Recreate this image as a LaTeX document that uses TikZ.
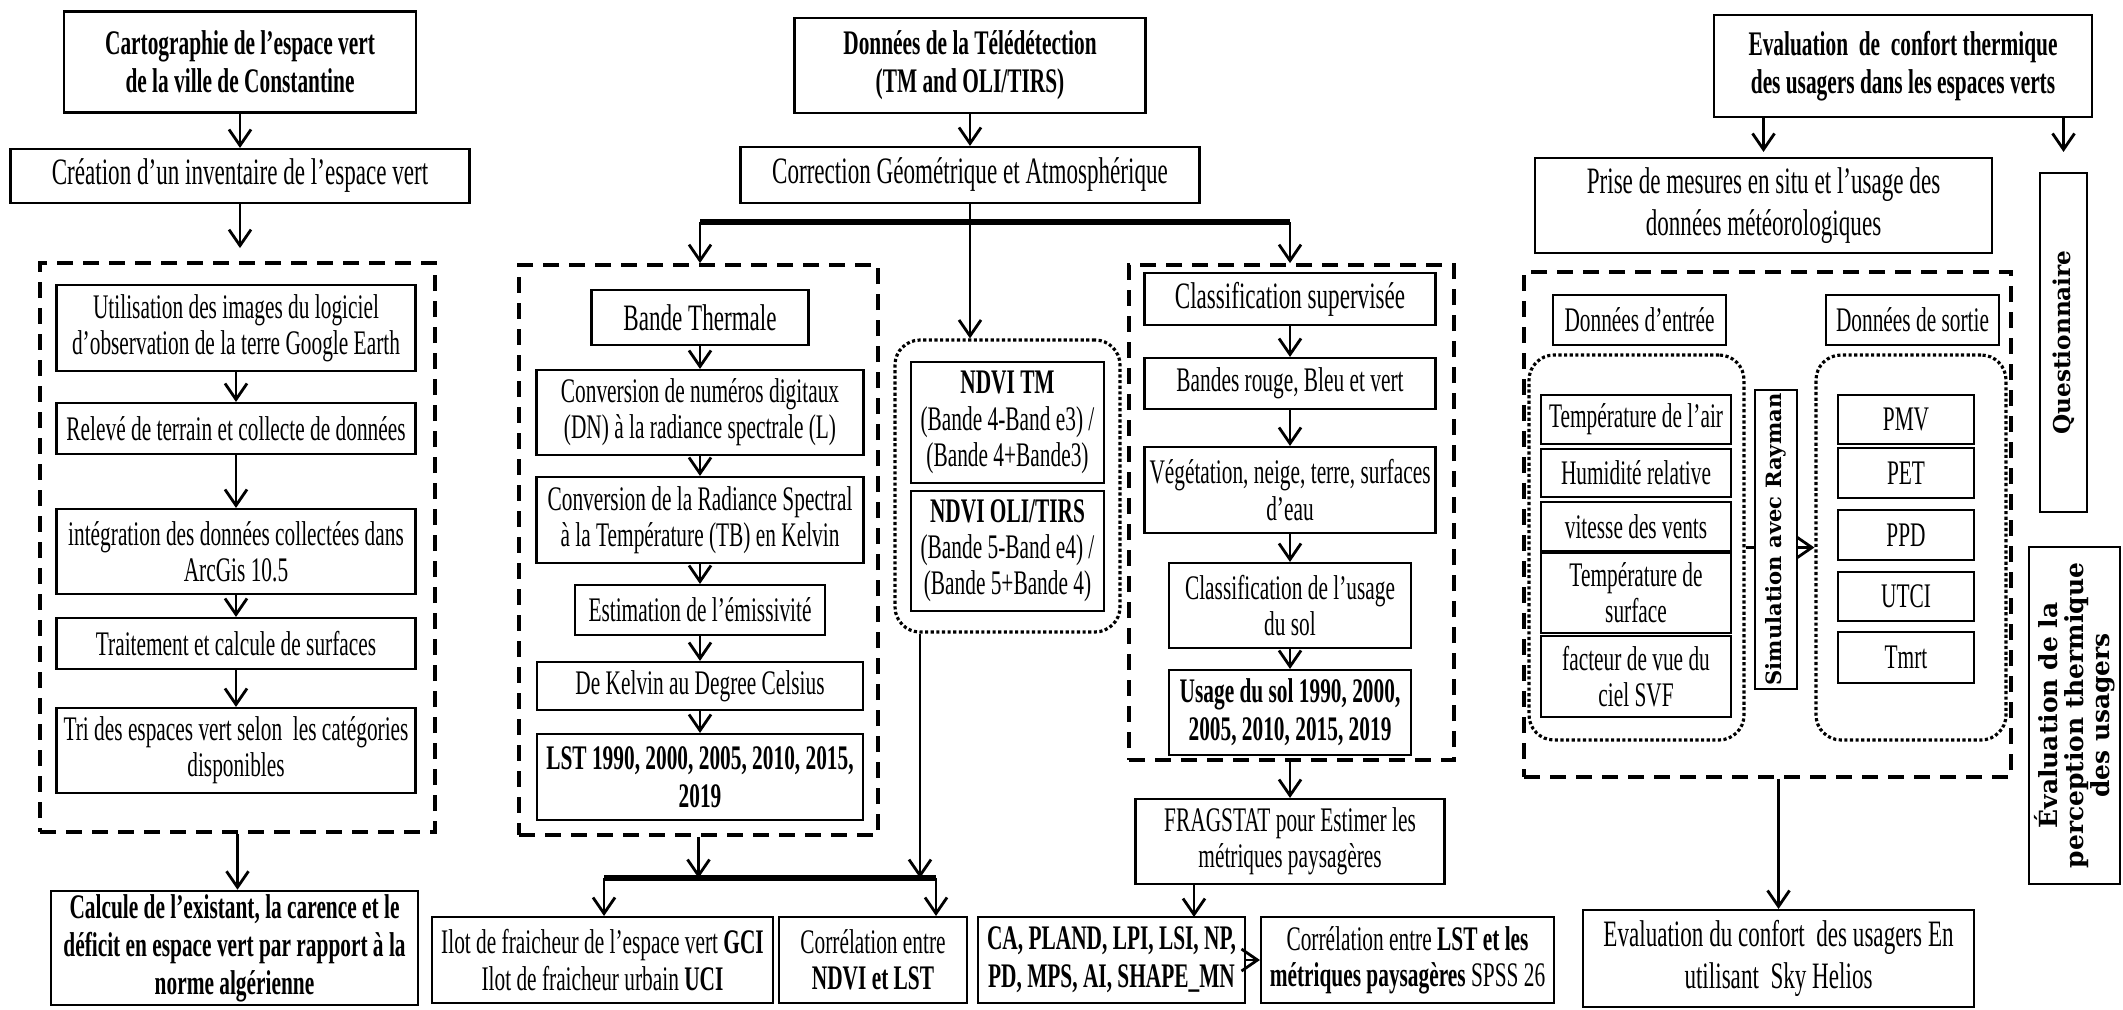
\documentclass[tikz,border=0pt]{standalone}
\usepackage{fontspec}
\setmainfont{Liberation Serif}[FakeStretch=0.62]
\newfontfamily\rotfont{DejaVu Serif}
\usetikzlibrary{arrows.meta}

\begin{document}
\begin{tikzpicture}[x=0.1mm, y=-0.1mm, font=\fontsize{9.8}{10.3}\selectfont,
    box/.style={draw, line width=0.6pt, fill=white, align=center, inner sep=1pt},
    title/.style={box, font=\bfseries\fontsize{9.8}{10.8}\selectfont},
    sz/.style 2 args={minimum width=#1mm, minimum height=#2mm},
    dashbox/.style={draw, line width=1.1pt, dash pattern=on 1.6mm off 1mm},
    dotbox/.style={draw, line width=0.9pt, dash pattern=on 0.9pt off 0.7pt, rounded corners=2.5mm},
    vert/.style={box, rotate=90, font=\rotfont\bfseries\fontsize{#1}{7.4}\selectfont},
    arr/.style={-{Straight Barb[length=1.6mm, width=2.2mm]}, line width=0.8pt},
    bus/.style={line width=1.6pt}]
    \useasboundingbox (0,0) rectangle (2123,1009);

    \node[title, sz={35.2}{10.1}] (carto) at (240,62) {Cartographie de l’espace vert\\de la ville de Constantine};
    \node[box, sz={45.9}{5.4}, font=\fontsize{10.6}{11}\selectfont] (cre) at (240,176) {Création d’un inventaire de l’espace vert};
    \node[dashbox, sz={39.5}{56.9}] (d1) at (237.5,547.5) {};
    \node[box, sz={35.9}{8.6}] (u1) at (236,328) {Utilisation des images du logiciel\\d'observation de la terre Google Earth};
    \node[box, sz={35.9}{5.1}] (u2) at (236,428.5) {Relevé de terrain et collecte de données};
    \node[box, sz={35.9}{8.5}] (u3) at (236,551.5) {intégration des données collectées dans\\ArcGis 10.5};
    \node[box, sz={35.9}{5.1}] (u4) at (236,643.5) {Traitement et calcule de surfaces};
    \node[box, sz={35.9}{8.5}] (u5) at (236,750.5) {Tri des espaces vert selon\ \ les catégories\\disponibles};
    \node[title, sz={36.7}{11.4}] (calc) at (234.5,948) {Calcule de l’existant, la carence et le\\déficit en espace vert par rapport à la\\norme algérienne};

    \node[title, sz={35.1}{9.5}] (tele) at (970,65.5) {Données de la Télédétection\\(TM and OLI/TIRS)};
    \node[box, sz={45.9}{5.6}, font=\fontsize{10.6}{11}\selectfont] (corr) at (970,175) {Correction Géométrique et Atmosphérique};
    \coordinate (b1) at (700,222);
    \coordinate (b2) at (1290,222);
    \node[dashbox, sz={35.9}{57}] (d2) at (698.5,550) {};
    \node[box, sz={21.7}{5.5}, font=\fontsize{10.6}{11}\selectfont] (band) at (700,317.5) {Bande Thermale};
    \node[box, sz={32.7}{8.5}] (cv1) at (700,412.5) {Conversion de numéros digitaux\\(DN) à la radiance spectrale (L)};
    \node[box, sz={32.7}{8.6}] (cv2) at (700,520) {Conversion de la Radiance Spectral\\à la Température (TB) en Kelvin};
    \node[box, sz={25}{5}] (emi) at (700,610) {Estimation de l’émissivité};
    \node[box, sz={32.6}{4.8}] (kel) at (700,686) {De Kelvin au Degree Celsius};
    \node[title, sz={32.6}{8.6}] (lst) at (700,777) {LST 1990, 2000, 2005, 2010, 2015,\\2019};
    \node[dotbox, sz={22.5}{29.2}] (ndvi) at (1007.5,486) {};
    \node[box, sz={19.3}{12.1}] (tm) at (1007.5,422.5) {\textbf{NDVI TM}\\(Bande 4-Band e3) /\\(Bande 4+Bande3)};
    \node[box, sz={19.3}{12}] (oli) at (1007.5,551) {\textbf{NDVI OLI/TIRS}\\(Bande 5-Band e4) /\\(Bande 5+Bande 4)};
    \node[dashbox, sz={32.5}{49.5}] (d3) at (1291.5,512.5) {};
    \node[box, sz={29.1}{5.2}, font=\fontsize{10.6}{11}\selectfont] (cls) at (1290,299) {Classification supervisée};
    \node[box, sz={29.1}{5.1}] (brv) at (1290,383.5) {Bandes rouge, Bleu et vert};
    \node[box, sz={29.1}{8.6}] (veg) at (1290,490) {Végétation, neige, terre, surfaces\\d’eau};
    \node[box, sz={24.2}{8.5}] (clu) at (1290,605.5) {Classification de l’usage\\du sol};
    \node[title, sz={24.2}{8.5}] (usg) at (1290,712.5) {Usage du sol 1990, 2000,\\2005, 2010, 2015, 2019};
    \node[box, sz={30.9}{8.5}] (frag) at (1290,841.5) {FRAGSTAT pour Estimer les\\métriques paysagères};
    \node[box, sz={34.1}{8.6}] (ilot) at (602.5,960) {Ilot de fraicheur de l’espace vert \textbf{GCI}\\Ilot de fraicheur urbain \textbf{UCI}};
    \node[box, sz={18.8}{8.6}] (cndvi) at (873,960) {Corrélation entre\\\textbf{NDVI et LST}};
    \node[title, sz={26.7}{8.6}] (ca) at (1111.5,960) {CA, PLAND, LPI, LSI, NP,\\PD, MPS, AI, SHAPE\_MN};
    \node[box, sz={29.3}{8.6}] (clst) at (1407.5,960) {Corrélation entre \textbf{LST et les}\\\textbf{métriques paysagères} SPSS 26};
    \coordinate (b3) at (604,878);
    \coordinate (b4) at (936,878);
    \coordinate (n3) at (920,878);
    \coordinate (f1) at (1194,917);

    \node[title, sz={37.8}{10.2}] (eval) at (1903,66) {Evaluation\ \ de\ \ confort thermique\\des usagers dans les espaces verts};
    \node[box, sz={45.7}{9.5}, font=\fontsize{10.6}{12}\selectfont] (prise) at (1763.5,205.5) {Prise de mesures en situ et l’usage des\\données météorologiques};
    \node[vert=6.6, sz={33.9}{4.7}] (quest) at (2063.5,342.5) {Questionnaire};
    \node[vert=7.1, sz={33.7}{9.1}] (perc) at (2074.5,715.5) {Évaluation de la\\perception thermique\\des usagers};
    \node[dashbox, sz={48.7}{50.5}] (d4) at (1767.5,524.5) {};
    \node[box, sz={17.3}{5}] (din) at (1639.5,320) {Données d’entrée};
    \node[box, sz={17.3}{5}] (dout) at (1912.5,320) {Données de sortie};
    \node[dotbox, sz={21.5}{38.5}] (dotin) at (1636.5,547.5) {};
    \node[dotbox, sz={19}{38.5}] (dotout) at (1911,547.5) {};
    \node[box, sz={19}{4.9}] (i1) at (1636,419.5) {Température de l’air};
    \node[box, sz={19}{4.8}] (i2) at (1636,473) {Humidité relative};
    \node[box, sz={19}{4.9}] (i3) at (1636,526.5) {vitesse des vents};
    \node[box, sz={19}{8}] (i4) at (1636,593) {Température de\\surface};
    \node[box, sz={19}{8.1}] (i5) at (1636,676.5) {facteur de vue du\\ciel SVF};
    \node[box, sz={13.6}{4.9}] (o1) at (1906,419.5) {PMV};
    \node[box, sz={13.6}{5}] (o2) at (1906,473) {PET};
    \node[box, sz={13.6}{5}] (o3) at (1906,535) {PPD};
    \node[box, sz={13.6}{4.9}] (o4) at (1906,596.5) {UTCI};
    \node[box, sz={13.6}{5.1}] (o5) at (1906,657.5) {Tmrt};
    \node[box, sz={39.1}{9.7}, font=\fontsize{10.6}{12}\selectfont] (sky) at (1778.5,958.5) {Evaluation du confort\ \ des usagers En\\utilisant\ \ Sky Helios};

\draw[arr] (carto) -- (cre);
\draw[arr, shorten >=1.3mm] (cre) -- (cre |- d1.north);
\draw[arr] (u1) -- (u2);
\draw[arr] (u2) -- (u3);
\draw[arr] (u3) -- (u4);
\draw[arr] (u4) -- (u5);
\draw[arr] (d1.south) -- (d1.south |- calc.north);

\draw[arr] (tele) -- (corr);
\draw[arr] (corr) -- (corr |- ndvi.north);
\draw[bus] (b1) -- (b2);
\draw[arr] (b1) -- (b1 |- d2.north);
\draw[arr] (b2) -- (b2 |- d3.north);
\draw[arr] (band) -- (cv1);
\draw[arr] (cv1) -- (cv2);
\draw[arr] (cv2) -- (emi);
\draw[arr] (emi) -- (kel);
\draw[arr] (kel) -- (lst);
\draw[arr] (cls) -- (brv);
\draw[arr] (brv) -- (veg);
\draw[arr] (veg) -- (clu);
\draw[arr] (clu) -- (usg);
\draw[arr] (d3.south -| frag) -- (frag);
\draw[arr] (frag.south -| f1) -- (f1);
\draw[arr] (ca) -- (clst);
\draw[arr] (d2.south) -- (d2.south |- b3);
\draw[arr] (ndvi.south -| n3) -- (n3);
\draw[bus] (b3) -- (b4);
\draw[arr] (b3) -- (b3 |- ilot.north);
\draw[arr] (b4) -- (b4 |- cndvi.north);

\draw[arr] (eval.south -| prise) -- ([yshift=0.5mm]prise.north);
\draw[arr] (eval.south -| quest.east) -- ([yshift=2mm]quest.east);
\draw[arr] (d4.south -| sky) -- (sky);
\draw[arr] (dotin) -- (dotout);
    \node[vert=6, sz={28.9}{4.2}] (sim) at (1776,539.5) {Simulation avec Rayman};
\end{tikzpicture}
\end{document}
